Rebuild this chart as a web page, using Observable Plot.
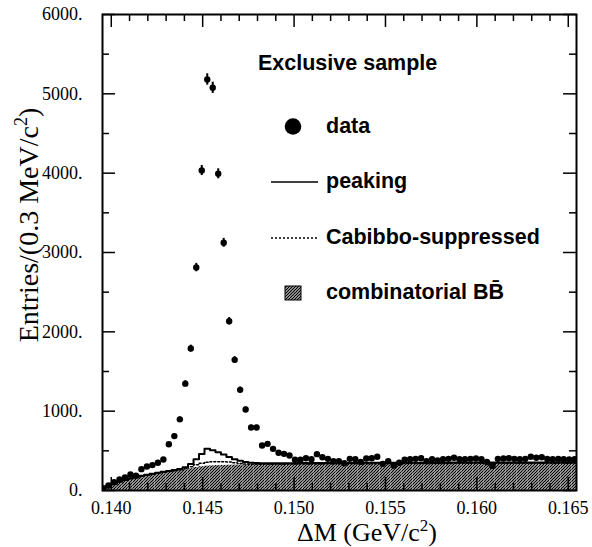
<!DOCTYPE html>
<html>
<head>
<meta charset="utf-8">
<script src="https://cdn.jsdelivr.net/npm/d3@7"></script>
<script src="https://cdn.jsdelivr.net/npm/@observablehq/plot@0.6"></script>
<style>
  html, body { margin: 0; padding: 0; background: #fff; }
  #chart { width: 592px; height: 547px; }
</style>
</head>
<body>
<div id="chart"></div>
<script>
// ---- data (bins of 0.3 MeV starting at 0.1394 GeV) ----
const binStart = 0.1394;
const binWidth = 0.0003;

const dataCounts = [
  30, 63, 105, 139, 164, 202, 185, 269, 302, 320,
  350, 390, 583, 686, 897, 1347, 1790, 2810, 4034, 5181,
  5076, 3992, 3122, 2134, 1647, 1269, 1021, 794, 794, 567,
  588, 525, 475, 462, 441, 387, 387, 407, 395, 458,
  420, 399, 370, 370, 344, 399, 395, 361, 403, 407,
  425, 336, 370, 315, 349, 387, 395, 399, 407, 370,
  395, 378, 395, 399, 412, 395, 395, 399, 403, 395,
  360, 310, 399, 403, 407, 399, 395, 399, 425, 412,
  420, 399, 395, 399, 395, 390, 395
];

const combinatorial = [
  25, 55, 80, 105, 125, 145, 160, 175, 188, 200,
  212, 222, 232, 242, 252, 262, 275, 290, 300, 307,
  311, 314, 316, 318, 320, 321, 322, 323, 324, 325,
  326, 326, 327, 327, 328, 328, 329, 329, 330, 330,
  330, 331, 331, 331, 332, 332, 332, 333, 333, 333,
  333, 334, 334, 334, 334, 335, 335, 335, 335, 336,
  336, 336, 336, 336, 337, 337, 337, 337, 337, 338,
  338, 338, 338, 338, 338, 339, 339, 339, 339, 339,
  339, 340, 340, 340, 340, 340, 340
];

const cabibbo = [
  2, 3, 3, 4, 4, 4, 5, 5, 5, 6,
  6, 7, 7, 8, 9, 15, 25, 35, 45, 50,
  50, 48, 45, 40, 30, 20, 12, 8, 6, 5,
  5, 5, 5, 5, 5, 5, 5, 5, 5, 5,
  5, 5, 5, 5, 5, 5, 5, 5, 5, 5,
  5, 5, 5, 5, 5, 5, 5, 5, 5, 5,
  5, 5, 5, 5, 5, 5, 5, 5, 5, 5,
  5, 5, 5, 5, 5, 5, 5, 5, 5, 5,
  5, 5, 5, 5, 5, 5, 5
];

const peaking = [
  2, 3, 3, 4, 4, 5, 5, 5, 6, 6,
  6, 7, 7, 8, 9, 15, 35, 70, 115, 170,
  147, 121, 92, 65, 43, 35, 25, 20, 16, 14,
  13, 13, 12, 12, 12, 12, 12, 12, 11, 11,
  11, 11, 11, 11, 11, 11, 11, 11, 11, 11,
  11, 11, 11, 11, 10, 10, 10, 10, 10, 10,
  10, 10, 10, 10, 10, 10, 10, 10, 10, 10,
  10, 10, 10, 10, 10, 10, 10, 10, 10, 10,
  10, 10, 10, 10, 10, 10, 10
];

const xMajor = [0.140, 0.145, 0.150, 0.155, 0.160, 0.165];
const xMinor = [0.141, 0.142, 0.143, 0.144, 0.146, 0.147, 0.148, 0.149,
                0.151, 0.152, 0.153, 0.154, 0.156, 0.157, 0.158, 0.159,
                0.161, 0.162, 0.163, 0.164];
const yMajor = [0, 1000, 2000, 3000, 4000, 5000, 6000];
const yMinor = [500, 1500, 2500, 3500, 4500, 5500];
const xTickLabels = ["0.140", "0.145", "0.150", "0.155", "0.160", "0.165"];
const yTickLabels = ["0.", "1000.", "2000.", "3000.", "4000.", "5000.", "6000."];

const legendTitle = "Exclusive sample";
const legendLabels = ["data", "peaking", "Cabibbo-suppressed", "combinatorial B"];

// ---- tables built from the arrays ----
const bins = dataCounts.map((n, i) => ({
  x1: binStart + i * binWidth,
  x2: binStart + (i + 1) * binWidth,
  xc: binStart + (i + 0.5) * binWidth,
  n,
  err: Math.sqrt(n),
  comb: combinatorial[i],
  combCab: combinatorial[i] + cabibbo[i],
  total: combinatorial[i] + cabibbo[i] + peaking[i]
}));
const steps = bins.map(b => ({x: b.x1, combCab: b.combCab, total: b.total}));
const last = bins[bins.length - 1];
steps.push({x: last.x2, combCab: last.combCab, total: last.total});

// ---- layout ----
const W = 592, H = 547;
const mL = 102, mR = 16, mT = 14, mB = 57;
const innerW = W - mL - mR, innerH = H - mT - mB;
const majorLen = 13, minorLen = 7;

const chart = Plot.plot({
  width: W,
  height: H,
  marginLeft: mL, marginRight: mR, marginTop: mT, marginBottom: mB,
  x: {domain: [0.13952, 0.16545]},
  y: {domain: [0, 6000]},
  style: {fontFamily: "Liberation Serif, Times New Roman, serif", background: "white", color: "black"},
  marks: [
    Plot.rectY(bins, {x1: "x1", x2: "x2", y: "comb", fill: "url(#hatch)", clip: true}),
    Plot.lineY(steps, {x: "x", y: "combCab", curve: "step-after", stroke: "black", strokeWidth: 1.5, strokeDasharray: "2,2", clip: true}),
    Plot.lineY(steps, {x: "x", y: "total", curve: "step-after", stroke: "black", strokeWidth: 2, clip: true}),
    // inward ticks on all four sides
    Plot.ruleX(xMajor, {x: d => d, insetTop: innerH - majorLen, stroke: "black", strokeWidth: 1.5}),
    Plot.ruleX(xMajor, {x: d => d, insetBottom: innerH - majorLen, stroke: "black", strokeWidth: 1.5}),
    Plot.ruleX(xMinor, {x: d => d, insetTop: innerH - minorLen, stroke: "black", strokeWidth: 1.5}),
    Plot.ruleX(xMinor, {x: d => d, insetBottom: innerH - minorLen, stroke: "black", strokeWidth: 1.5}),
    Plot.ruleY(yMajor, {y: d => d, insetRight: innerW - majorLen, stroke: "black", strokeWidth: 1.5}),
    Plot.ruleY(yMajor, {y: d => d, insetLeft: innerW - majorLen, stroke: "black", strokeWidth: 1.5}),
    Plot.ruleY(yMinor, {y: d => d, insetRight: innerW - minorLen, stroke: "black", strokeWidth: 1.5}),
    Plot.ruleY(yMinor, {y: d => d, insetLeft: innerW - minorLen, stroke: "black", strokeWidth: 1.5}),
    Plot.axisX({ticks: xMajor, tickSize: 0, tickPadding: 11, tickFormat: (d, i) => xTickLabels[i], fontSize: 18, label: null}),
    Plot.axisY({ticks: yMajor, tickSize: 0, tickPadding: 20, tickFormat: (d, i) => yTickLabels[i], fontSize: 18, label: null}),
    Plot.ruleX(bins, {x: "xc", y1: d => d.n - d.err, y2: d => d.n + d.err, stroke: "black", strokeWidth: 2, clip: true}),
    Plot.dot(bins, {x: "xc", y: "n", r: 3.2, fill: "black", clip: true}),
    Plot.frame({stroke: "black", strokeWidth: 2})
  ]
});

const svg = d3.select(chart);
// hatch pattern
const defs = svg.insert("defs", ":first-child");
const pat = defs.append("pattern").attr("id", "hatch")
  .attr("patternUnits", "userSpaceOnUse").attr("width", 3).attr("height", 3);
pat.append("rect").attr("width", 3).attr("height", 3).attr("fill", "#fff");
pat.append("path").attr("d", "M0,3 L3,0 M-1,1 L1,-1 M2,4 L4,2")
  .attr("stroke", "#000").attr("stroke-width", 1.3);

// axis titles
const serif = "Liberation Serif, Times New Roman, serif";
const yt = svg.append("text")
  .attr("transform", "translate(38,225) rotate(-90)")
  .attr("text-anchor", "middle").attr("font-family", serif).attr("font-size", 28).attr("fill", "black");
yt.append("tspan").text("Entries/(0.3 MeV/c");
yt.append("tspan").attr("font-size", 18).attr("dy", -11).text("2");
yt.append("tspan").attr("dy", 11).text(")");

const xt = svg.append("text")
  .attr("x", 367).attr("y", 541)
  .attr("text-anchor", "middle").attr("font-family", serif).attr("font-size", 26).attr("fill", "black");
xt.append("tspan").text("\u0394M (GeV/c");
xt.append("tspan").attr("font-size", 17).attr("dy", -10).text("2");
xt.append("tspan").attr("dy", 10).text(")");

// legend
const sans = "Liberation Sans, Arial, Helvetica, sans-serif";
const lg = svg.append("g").attr("font-family", sans).attr("font-weight", "bold")
  .attr("font-size", 21.5).attr("fill", "black").attr("text-anchor", "start");
lg.append("text").attr("x", 258).attr("y", 70).text(legendTitle);
lg.append("circle").attr("cx", 293).attr("cy", 126.5).attr("r", 8.3).attr("fill", "black");
lg.append("text").attr("x", 326).attr("y", 133).text(legendLabels[0]);
lg.append("line").attr("x1", 271).attr("x2", 318).attr("y1", 182).attr("y2", 182).attr("stroke", "black").attr("stroke-width", 1.5);
lg.append("text").attr("x", 326).attr("y", 188).text(legendLabels[1]);
lg.append("line").attr("x1", 271).attr("x2", 318).attr("y1", 238).attr("y2", 238).attr("stroke", "black").attr("stroke-width", 1.3).attr("stroke-dasharray", "2,2");
lg.append("text").attr("x", 326).attr("y", 244).text(legendLabels[2]);
lg.append("rect").attr("x", 285).attr("y", 286).attr("width", 16).attr("height", 14).attr("fill", "url(#hatch)").attr("stroke", "black").attr("stroke-width", 1);
const lt = lg.append("text").attr("x", 326).attr("y", 299);
lt.append("tspan").text(legendLabels[3]);
lt.append("tspan").text("B\u0304");

document.getElementById("chart").appendChild(chart);
</script>
</body>
</html>
